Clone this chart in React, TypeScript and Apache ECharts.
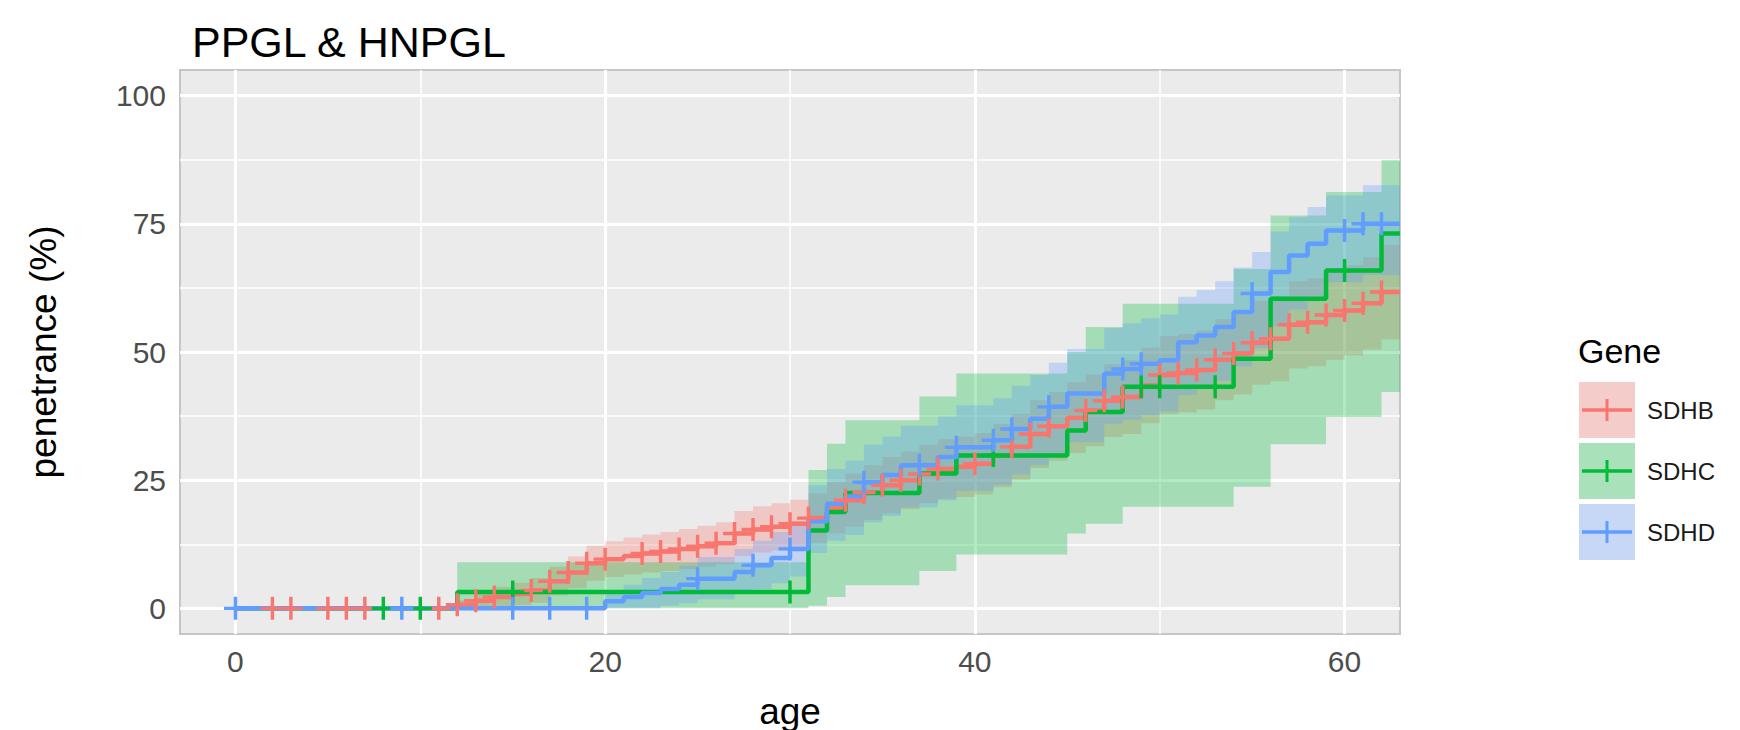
import React, { useEffect, useRef } from "react";
import * as echarts from "echarts";

const TITLE = "PPGL & HNPGL";
const X_NAME = "age";
const Y_NAME = "penetrance (%)";
const LEGEND_TITLE = "Gene";
const X_TICKS = [0, 20, 40, 60];
const X_MINOR = [10, 30, 50];
const Y_TICKS = [0, 25, 50, 75, 100];
const Y_MINOR = [12.5, 37.5, 62.5, 87.5];
const GENES = ["SDHB", "SDHC", "SDHD"];
const COLORS = ["#F8766D", "#00BA38", "#619CFF"];

// SDHB
const sdhbAge = [0, 12, 13, 14, 15, 16, 17, 18, 19, 20, 21, 22, 23, 24, 25, 26, 27, 28, 29, 30, 31, 32, 33, 34, 35, 36, 37, 38, 39, 40, 41, 42, 43, 44, 45, 46, 47, 48, 49, 50, 51, 52, 53, 54, 55, 56, 57, 58, 59, 60, 61, 62, 63];
const sdhbPen = [0, 0.7, 1.5, 2.2, 2.8, 3.5, 5.3, 7.0, 8.8, 9.6, 10.2, 10.7, 11.1, 11.6, 12.1, 12.7, 14.6, 15.4, 15.9, 16.5, 17.6, 19.6, 21.1, 22.6, 24.0, 25.0, 26.2, 27.2, 27.6, 28.2, 29.8, 31.5, 34.0, 35.5, 37.2, 38.6, 40.5, 41.2, 43.5, 45.5, 45.9, 46.5, 48.5, 49.7, 51.8, 52.6, 55.3, 55.8, 57.2, 58.1, 59.5, 61.7, 61.7];
const sdhbLow = [0, 0, 0, 0.2, 0.6, 1.1, 2.5, 3.9, 5.4, 6.1, 6.6, 7.0, 7.3, 7.7, 8.1, 8.6, 10.2, 10.9, 11.3, 11.8, 12.8, 14.6, 15.9, 17.3, 18.5, 19.4, 20.5, 21.4, 21.7, 22.2, 23.6, 25.1, 27.4, 28.8, 30.3, 31.6, 33.4, 34.0, 36.1, 37.9, 38.2, 38.8, 40.6, 41.7, 43.6, 44.3, 46.8, 47.2, 48.5, 49.3, 50.5, 52.5, 52.5];
const sdhbUp = [0, 1.6, 3.0, 4.2, 5.0, 5.9, 8.1, 10.1, 12.2, 13.1, 13.8, 14.4, 14.9, 15.5, 16.1, 16.8, 19.0, 19.9, 20.5, 21.2, 22.4, 24.6, 26.3, 27.9, 29.5, 30.6, 31.9, 33.0, 33.5, 34.2, 36.0, 37.9, 40.6, 42.2, 44.1, 45.6, 47.6, 48.4, 50.9, 53.1, 53.5, 54.2, 56.4, 57.7, 60.0, 60.9, 63.8, 64.4, 65.9, 66.9, 68.5, 70.9, 70.9];
const sdhbCensor = [2, 3, 5, 6, 7, 11, 12, 13, 14, 16, 17, 18, 19, 20, 22, 23, 24, 25, 26, 27, 28, 29, 30, 31, 33, 34, 35, 36, 37, 38, 40, 42, 43, 44, 46, 47, 48, 50, 51, 52, 53, 54, 55, 56, 57, 58, 59, 60, 61, 62];

// SDHC
const sdhcAge = [0, 12, 31, 32, 33, 37, 39, 45, 46, 48, 54, 56, 59, 62, 63];
const sdhcPen = [0, 3.2, 15.2, 18.8, 22.5, 26.3, 29.8, 34.7, 38.3, 43.2, 48.7, 60.4, 65.9, 73.1, 73.1];
const sdhcLow = [0, 0, 0.5, 2.2, 4.5, 7.3, 10.5, 14.6, 16.5, 19.8, 23.7, 32.0, 37.3, 42.2, 42.2];
const sdhcUp = [0, 9.0, 27.0, 32.1, 36.7, 41.3, 45.8, 50.0, 54.9, 59.4, 66.2, 76.6, 81.2, 87.4, 87.4];
const sdhcCensor = [8, 10, 15, 30, 41, 49, 50, 53, 60];

// SDHD
const sdhdAge = [0, 20, 21, 22, 23, 24, 25, 27, 28, 29, 30, 31, 32, 33, 34, 35, 36, 38, 39, 41, 42, 43, 44, 45, 47, 48, 49, 50, 51, 52, 53, 54, 55, 56, 57, 58, 59, 61, 63];
const sdhdPen = [0, 1.4, 2.2, 3.0, 3.8, 4.6, 5.8, 7.1, 8.4, 9.8, 11.6, 17.0, 20.4, 21.8, 24.6, 26.0, 27.9, 29.5, 31.4, 32.8, 35.0, 37.0, 39.3, 41.9, 45.8, 46.7, 47.7, 48.4, 51.9, 53.2, 54.9, 57.8, 61.4, 65.6, 68.8, 71.1, 73.7, 75.0, 75.0];
const sdhdLow = [0, 0, 0, 0, 0.5, 1.0, 1.8, 2.8, 3.8, 4.9, 6.2, 10.8, 13.2, 14.3, 16.8, 18.0, 19.7, 21.1, 22.9, 24.1, 26.1, 27.9, 30.0, 32.4, 36.0, 36.8, 37.7, 38.4, 41.6, 42.8, 44.4, 47.2, 50.8, 55.0, 58.3, 60.8, 63.6, 65.0, 65.0];
const sdhdUp = [0, 3.5, 4.6, 5.9, 7.1, 8.3, 10.0, 11.6, 13.2, 14.9, 17.0, 24.0, 27.2, 28.8, 31.9, 33.5, 35.6, 37.4, 39.6, 41.0, 43.4, 45.5, 47.9, 50.6, 54.7, 55.6, 56.6, 57.3, 60.8, 62.1, 63.8, 66.5, 69.5, 73.5, 76.3, 78.3, 80.5, 82.5, 82.5];
const sdhdCensor = [0, 9, 15, 17, 19, 25, 28, 30, 34, 37, 39, 41, 42, 44, 48, 49, 55, 60, 61, 62];

const CURVES = [
  { age: sdhbAge, pen: sdhbPen, low: sdhbLow, up: sdhbUp, censor: sdhbCensor },
  { age: sdhcAge, pen: sdhcPen, low: sdhcLow, up: sdhcUp, censor: sdhcCensor },
  { age: sdhdAge, pen: sdhdPen, low: sdhdLow, up: sdhdUp, censor: sdhdCensor },
];

const FONT = '"Liberation Sans", Arial, Helvetica, sans-serif';

function hexA(hex: string, a: number) {
  const r = parseInt(hex.slice(1, 3), 16);
  const g = parseInt(hex.slice(3, 5), 16);
  const b = parseInt(hex.slice(5, 7), 16);
  return `rgba(${r},${g},${b},${a})`;
}

function stepAt(ages: number[], vals: number[], t: number) {
  let v = vals[0];
  for (let i = 0; i < ages.length; i++) {
    if (ages[i] <= t) v = vals[i];
  }
  return v;
}

const PLUS = "path://M8.5,0 h3 v8.5 h8.5 v3 h-8.5 v8.5 h-3 v-8.5 h-8.5 v-3 h8.5 z";

export default function App() {
  const ref = useRef<HTMLDivElement>(null);

  useEffect(() => {
    if (!ref.current) return;
    const chart = echarts.init(ref.current, null, { renderer: "svg" });

    const gridLines: any[] = [];
    X_TICKS.forEach((v) => gridLines.push({ xAxis: v, lineStyle: { color: "#FFFFFF", width: 3, type: "solid" } }));
    X_MINOR.forEach((v) => gridLines.push({ xAxis: v, lineStyle: { color: "#FFFFFF", width: 1.5, type: "solid" } }));
    Y_TICKS.forEach((v) => gridLines.push({ yAxis: v, lineStyle: { color: "#FFFFFF", width: 3, type: "solid" } }));
    Y_MINOR.forEach((v) => gridLines.push({ yAxis: v, lineStyle: { color: "#FFFFFF", width: 1.5, type: "solid" } }));

    const series: any[] = [
      {
        type: "line",
        data: [[-3, -5]],
        showSymbol: false,
        lineStyle: { opacity: 0 },
        z: 1,
        silent: true,
        markLine: {
          z: 1,
          silent: true,
          symbol: ["none", "none"],
          label: { show: false },
          animation: false,
          data: gridLines,
        },
      },
    ];

    CURVES.forEach((c, gi) => {
      series.push({
        type: "custom",
        name: GENES[gi] + " band",
        z: 2,
        silent: true,
        data: c.age.map((a, i) => [a, c.low[i], c.up[i]]),
        encode: { x: 0, y: [1, 2] },
        renderItem: (params: any, api: any) => {
          if (params.dataIndex !== 0) return null;
          const pts: number[][] = [];
          const n = c.age.length;
          for (let i = 0; i < n - 1; i++) {
            pts.push(api.coord([c.age[i], c.up[i]]));
            pts.push(api.coord([c.age[i + 1], c.up[i]]));
          }
          for (let i = n - 2; i >= 0; i--) {
            pts.push(api.coord([c.age[i + 1], c.low[i]]));
            pts.push(api.coord([c.age[i], c.low[i]]));
          }
          return {
            type: "polygon",
            shape: { points: pts },
            style: { fill: hexA(COLORS[gi], 0.3), stroke: "none" },
          };
        },
      });
    });

    CURVES.forEach((c, gi) => {
      series.push({
        type: "line",
        name: GENES[gi],
        z: 3,
        step: "end",
        showSymbol: false,
        silent: true,
        data: c.age.map((a, i) => [a, c.pen[i]]),
        lineStyle: { color: COLORS[gi], width: 4.5 },
        itemStyle: { color: COLORS[gi] },
      });
    });

    CURVES.forEach((c, gi) => {
      series.push({
        type: "scatter",
        name: GENES[gi] + " censored",
        z: 4,
        silent: true,
        symbol: PLUS,
        symbolSize: 23,
        data: c.censor.map((a) => [a, stepAt(c.age, c.pen, a)]),
        itemStyle: { color: COLORS[gi], opacity: 1 },
      });
    });

    const graphic: any[] = [
      {
        type: "text",
        x: 192,
        y: 42,
        style: { text: TITLE, font: `43px ${FONT}`, fill: "#000000", align: "left", verticalAlign: "middle" },
      },
      {
        type: "text",
        x: 790,
        y: 711,
        style: { text: X_NAME, font: `37px ${FONT}`, fill: "#000000", align: "center", verticalAlign: "middle" },
      },
      {
        type: "text",
        x: 43,
        y: 352,
        rotation: Math.PI / 2,
        style: { text: Y_NAME, font: `37px ${FONT}`, fill: "#000000", align: "center", verticalAlign: "middle" },
      },
      {
        type: "text",
        x: 1578,
        y: 351,
        style: { text: LEGEND_TITLE, font: `34px ${FONT}`, fill: "#000000", align: "left", verticalAlign: "middle" },
      },
    ];
    GENES.forEach((g, i) => {
      const top = 382 + i * 61;
      const cy = top + 28;
      graphic.push({ type: "rect", shape: { x: 1579, y: top, width: 56, height: 56 }, style: { fill: "#F2F2F2" } });
      graphic.push({ type: "rect", shape: { x: 1579, y: top, width: 56, height: 56 }, style: { fill: hexA(COLORS[i], 0.3) } });
      graphic.push({ type: "line", shape: { x1: 1582, y1: cy, x2: 1632, y2: cy }, style: { stroke: COLORS[i], lineWidth: 3.5 } });
      graphic.push({ type: "line", shape: { x1: 1607, y1: cy - 11, x2: 1607, y2: cy + 11 }, style: { stroke: COLORS[i], lineWidth: 3 } });
      graphic.push({
        type: "text",
        x: 1647,
        y: cy,
        style: { text: g, font: `24px ${FONT}`, fill: "#1A1A1A", align: "left", verticalAlign: "middle" },
      });
    });

    const axisCommon = {
      type: "value" as const,
      splitLine: { show: false },
      minorSplitLine: { show: false },
      axisLine: { show: false },
    };

    chart.setOption({
      animation: false,
      backgroundColor: "#FFFFFF",
      grid: {
        left: 180,
        right: 340,
        top: 70,
        bottom: 96,
        show: true,
        backgroundColor: "#EBEBEB",
        borderColor: "#C6C6C6",
        borderWidth: 2,
      },
      xAxis: {
        ...axisCommon,
        min: -3,
        max: 63,
        axisTick: { show: true, customValues: X_TICKS, length: 8, lineStyle: { color: "#333333", width: 3 } },
        axisLabel: { customValues: X_TICKS, margin: 12, fontSize: 30, color: "#4D4D4D", fontFamily: FONT },
      },
      yAxis: {
        ...axisCommon,
        min: -5,
        max: 105,
        axisTick: { show: true, customValues: Y_TICKS, length: 8, lineStyle: { color: "#333333", width: 3 } },
        axisLabel: { customValues: Y_TICKS, margin: 14, fontSize: 30, color: "#4D4D4D", fontFamily: FONT },
      },
      series,
      graphic,
    });

    return () => chart.dispose();
  }, []);

  return (
    <div
      ref={ref}
      style={{ position: "fixed", left: 0, top: 0, width: "1740px", height: "730px", background: "#fff" }}
    />
  );
}
